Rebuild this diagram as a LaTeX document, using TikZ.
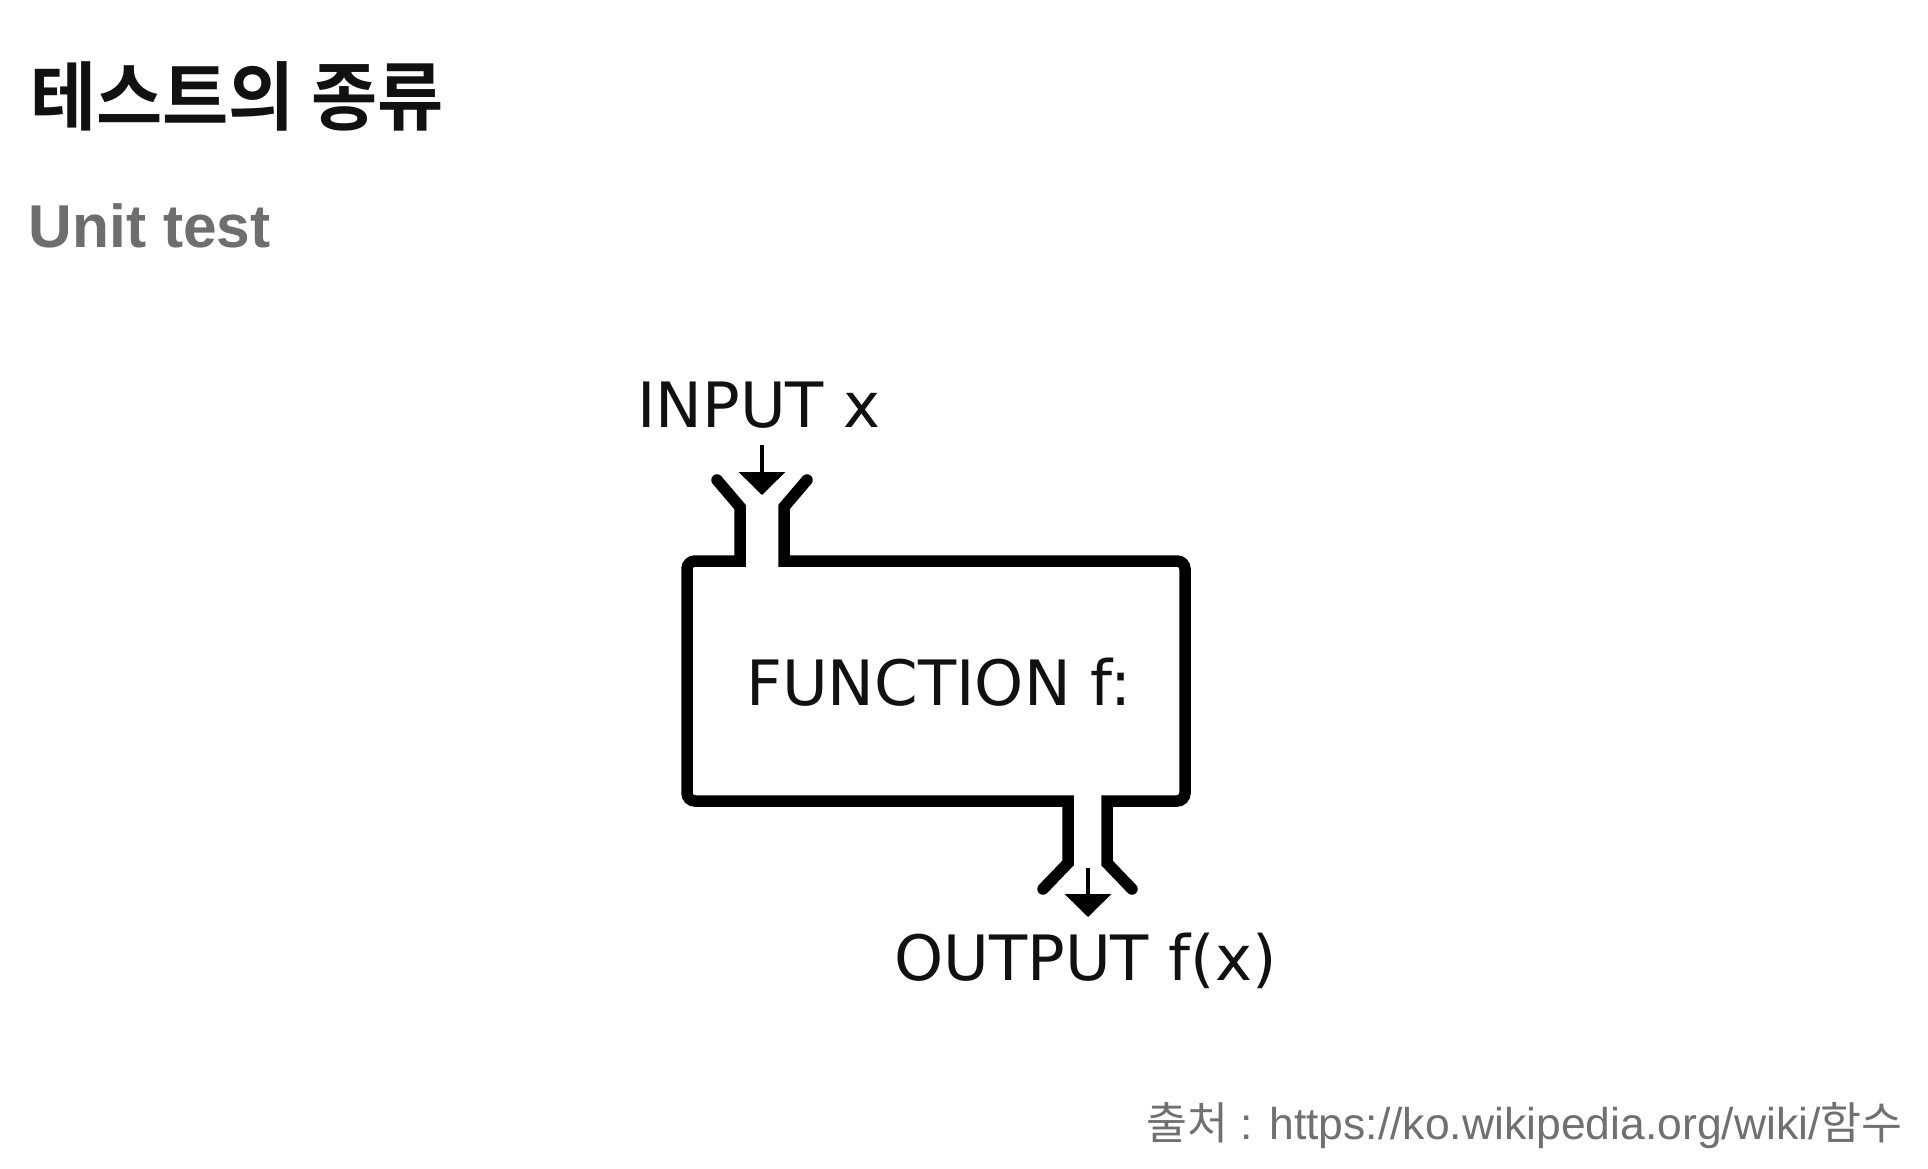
\documentclass[tikz,border=0pt]{standalone}
\usepackage{fontspec}
\setmainfont{Liberation Sans}
\newfontfamily\kr{Noto Sans CJK KR}[BoldFont={Noto Sans CJK KR Bold}]
\newfontfamily\diag{DejaVu Sans}
\usetikzlibrary{arrows.meta}
\definecolor{unitgrey}{HTML}{6E6E6E}
\definecolor{footgrey}{HTML}{707070}
\definecolor{ink}{HTML}{111111}
\begin{document}
\begin{tikzpicture}[x=1pt,y=-1pt,
  wire/.style={line width=11.5pt, line cap=round, line join=miter, draw=black},
  feed/.style={line width=3.5pt, draw=black, -{Triangle[length=23pt,width=46pt]}},
  lbl/.style={font=\diag\fontsize{62.5}{70}\selectfont, inner sep=0pt, anchor=base west, text=ink},
  plain/.style={inner sep=0pt, anchor=base west}]
\fill[white] (0,0) rectangle (1928,1168);
\useasboundingbox (0,0) rectangle (1928,1168);

% headings
\node[plain, font=\kr\bfseries\fontsize{75}{86}\selectfont, text=ink] (title) at (30,124)
  {\scalebox{0.96}[1]{테스트의 종류}};
\node[plain, font=\bfseries\fontsize{60.5}{70}\selectfont, text=unitgrey] (unit) at (28.5,247) {Unit test};

% labels
\node[lbl] (in) at (637,427) {INPUT x};
\node[lbl] (fn) at (746,705) {FUNCTION f:};
\node[lbl] (out) at (894,980) {OUTPUT f(x)};

% machine outline
\draw[wire] (717,480) -- (740,507) -- (740,561) -- (695,561)
  [rounded corners=8pt] -- (687,561) -- (687,801) -- (1060,801) [sharp corners] -- (1068,801)
  -- (1068,863) -- (1043,889);
\draw[wire] (1132,889) -- (1107,863) -- (1107,801) -- (1115,801)
  [rounded corners=8pt] -- (1185,801) -- (1185,561) -- (792,561) [sharp corners] -- (784,561)
  -- (784,507) -- (807,480);

% feed arrows
\coordinate (ia) at (762,445);
\coordinate (ib) at (762,495);
\coordinate (oa) at (1088,868);
\coordinate (ob) at (1088,917);
\draw[feed] (ia) -- (ib);
\draw[feed] (oa) -- (ob);

% source
\node[plain, font=\fontsize{44.5}{50}\selectfont, text=footgrey] (src) at (1146,1139)
  {{\kr 출처} : https://ko.wikipedia.org/wiki/{\kr 함수}};
\end{tikzpicture}
\end{document}
